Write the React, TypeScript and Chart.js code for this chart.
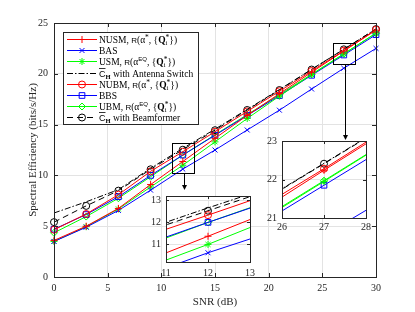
import React, { useEffect, useRef } from 'react';
import { Chart, registerables } from 'chart.js';
import { drawPoint } from 'chart.js/helpers';

Chart.register(...registerables);

const SERIF = "'Liberation Serif', 'Times New Roman', serif";
const SANS = "'Liberation Sans', Arial, sans-serif";

// ---------------- data ----------------
const snr = [0, 3, 6, 9, 12, 15, 18, 21, 24, 27, 30];
const nusm = [3.6, 5.0, 6.75, 9.1, 11.37, 13.65, 15.9, 18.05, 20.15, 22.24, 24.3];
const bas = [3.5, 4.9, 6.55, 8.55, 10.62, 12.5, 14.47, 16.42, 18.5, 20.55, 22.5];
const usm = [3.5, 4.95, 6.7, 8.86, 11.0, 13.3, 15.6, 17.8, 19.92, 21.95, 24.0];
const antSwitch = [6.3, 7.4, 8.6, 10.7, 12.66, 14.55, 16.5, 18.45, 20.44, 22.42, 24.42];
const nubm = [4.65, 6.2, 8.1, 10.4, 12.33, 14.3, 16.3, 18.28, 20.28, 22.28, 24.35];
const bbs = [4.7, 6.15, 7.9, 10.0, 12.0, 13.95, 15.9, 17.85, 19.85, 21.85, 23.85];
const ubm = [4.35, 5.95, 7.75, 9.87, 12.0, 14.0, 15.98, 17.95, 19.95, 21.97, 24.0];
const beamformer = [5.4, 7.0, 8.5, 10.6, 12.53, 14.45, 16.44, 18.4, 20.42, 22.41, 24.4];

const xTicks = [0, 5, 10, 15, 20, 25, 30];
const yTicks = [0, 5, 10, 15, 20, 25];
const zoom1X = [11, 13];
const zoom1Y = [10.2, 13.2];
const zoom1XTicks = [11, 12, 13];
const zoom1YTicks = [11, 12, 13];
const zoom2X = [26, 28];
const zoom2Y = [21, 23];
const zoom2XTicks = [26, 27, 28];
const zoom2YTicks = [21, 22, 23];

// ---------------- styles ----------------
type Run = { t: string; f?: string; dy?: number; noAdv?: boolean; over?: boolean };
const F = (s: number, w = '', fam = SERIF) => `${w ? w + ' ' : ''}${s}px ${fam}`;
const Rsym: Run = { t: 'R', f: F(8, '', SANS) };
const qPart: Run[] = [
  { t: ', {' },
  { t: 'Q', f: F(9.5, 'bold') },
  { t: 'i', f: F(6.5), dy: 2.5, noAdv: true },
  { t: '*', f: F(7.5), dy: -3 },
  { t: '})' },
];
const optLabel = (name: string): Run[] => [
  { t: name + ', ' }, Rsym, { t: '(α' }, { t: '*', f: F(7.5), dy: -3 }, ...qPart,
];
const eqLabel = (name: string): Run[] => [
  { t: name + ', ' }, Rsym, { t: '(α' }, { t: 'EQ', f: F(6, '', SANS), dy: -3.5 }, ...qPart,
];
const capLabel = (rest: string): Run[] => [
  { t: 'C', f: F(9, '', SANS), over: true },
  { t: 'H', f: F(6.5, 'bold'), dy: 2.5 },
  { t: rest },
];

const series = [
  { label: optLabel('NUSM'), data: nusm, color: '#ff0000', point: 'cross', dash: [] as number[], radius: 3.5 },
  { label: [{ t: 'BAS' }], data: bas, color: '#0000ff', point: 'crossRot', dash: [], radius: 3.5 },
  { label: eqLabel('USM'), data: usm, color: '#00ff00', point: 'star', dash: [], radius: 3.5 },
  { label: capLabel(' with Antenna Switch'), data: antSwitch, color: '#000000', point: false, dash: [6, 2, 1.5, 2], radius: 0 },
  { label: optLabel('NUBM'), data: nubm, color: '#ff0000', point: 'circle', dash: [], radius: 3.5 },
  { label: [{ t: 'BBS' }], data: bbs, color: '#0000ff', point: 'rect', dash: [], radius: 4 },
  { label: eqLabel('UBM'), data: ubm, color: '#00ff00', point: 'rectRot', dash: [], radius: 3.5 },
  { label: capLabel(' with Beamformer'), data: beamformer, color: '#000000', point: 'circle', dash: [6, 4], radius: 3.5 },
];

const makeDatasets = (clip: any) =>
  series.map((s) => ({
    data: snr.map((x, i) => ({ x, y: s.data[i] })),
    borderColor: s.color,
    backgroundColor: 'rgba(0,0,0,0)',
    borderWidth: 1,
    borderDash: s.dash,
    pointStyle: s.point as any,
    pointRadius: s.radius,
    pointBorderColor: s.color,
    pointBackgroundColor: 'rgba(0,0,0,0)',
    pointBorderWidth: 1,
    tension: 0,
    clip,
  }));

const AXIS = '#262626';
const GRID = '#e3e3e3';

function drawRich(ctx: CanvasRenderingContext2D, runs: Run[], x: number, y: number) {
  const base = F(9.5);
  ctx.textAlign = 'left';
  ctx.textBaseline = 'alphabetic';
  ctx.fillStyle = '#000';
  let cx = x;
  const baseY = y + 3;
  for (const r of runs) {
    ctx.font = r.f || base;
    ctx.fillText(r.t, cx, baseY + (r.dy || 0));
    const w = ctx.measureText(r.t).width;
    if (r.over) {
      ctx.strokeStyle = '#000';
      ctx.lineWidth = 0.8;
      ctx.beginPath();
      ctx.moveTo(cx, baseY - 8);
      ctx.lineTo(cx + w, baseY - 8);
      ctx.stroke();
    }
    if (!r.noAdv) cx += w;
  }
}

function drawBoxAndTicks(chart: any, xt: number[], yt: number[], len: number) {
  const { ctx, chartArea, scales } = chart;
  const { left, top, right, bottom } = chartArea;
  ctx.save();
  ctx.strokeStyle = AXIS;
  ctx.lineWidth = 1;
  ctx.setLineDash([]);
  ctx.beginPath();
  for (const v of xt) {
    const p = Math.round(scales.x.getPixelForValue(v)) + 0.5;
    ctx.moveTo(p, bottom);
    ctx.lineTo(p, bottom - len);
    ctx.moveTo(p, top);
    ctx.lineTo(p, top + len);
  }
  for (const v of yt) {
    const p = Math.round(scales.y.getPixelForValue(v)) + 0.5;
    ctx.moveTo(left, p);
    ctx.lineTo(left + len, p);
    ctx.moveTo(right, p);
    ctx.lineTo(right - len, p);
  }
  ctx.stroke();
  ctx.strokeRect(left + 0.5, top + 0.5, right - left, bottom - top);
  ctx.restore();
}

// inset layouts (page pixels)
const INSET1 = { left: 140, top: 185, w: 120, h: 100, area: { l: 26, t: 5, r: 10, xh: 23 }, xp: 5, yp: 5 };
const INSET2 = { left: 258, top: 130, w: 118, h: 112, area: { l: 24, t: 10, r: 10, xh: 24 }, xp: 3, yp: 5 };

function drawArrow(ctx: CanvasRenderingContext2D, x: number, y0: number, y1: number) {
  ctx.beginPath();
  ctx.moveTo(x, y0);
  ctx.lineTo(x, y1 - 4);
  ctx.stroke();
  ctx.beginPath();
  ctx.moveTo(x - 2.5, y1 - 5);
  ctx.lineTo(x + 2.5, y1 - 5);
  ctx.lineTo(x, y1);
  ctx.closePath();
  ctx.fill();
}

const mainPlugin = {
  id: 'mainDecor',
  afterDraw(chart: any) {
    const { ctx, scales } = chart;
    drawBoxAndTicks(chart, xTicks, yTicks, 4);
    ctx.save();
    ctx.strokeStyle = '#000';
    ctx.fillStyle = '#000';
    ctx.lineWidth = 1;
    const zr = (zx: number[], zy: number[]) => {
      const x0 = Math.round(scales.x.getPixelForValue(zx[0])) + 0.5;
      const x1 = Math.round(scales.x.getPixelForValue(zx[1])) + 0.5;
      const y0 = Math.round(scales.y.getPixelForValue(zy[1])) + 0.5;
      const y1 = Math.round(scales.y.getPixelForValue(zy[0])) + 0.5;
      ctx.strokeRect(x0, y0, x1 - x0, y1 - y0);
      return { cx: Math.round((x0 + x1) / 2) + 0.5, bottom: y1 };
    };
    const r1 = zr(zoom1X, zoom1Y);
    drawArrow(ctx, r1.cx, r1.bottom, INSET1.top + INSET1.area.t);
    const r2 = zr(zoom2X, zoom2Y);
    drawArrow(ctx, r2.cx, r2.bottom, INSET2.top + INSET2.area.t);

    // legend
    const lx = 63, ly = 32, lw = 135, lh = 92;
    ctx.fillStyle = '#fff';
    ctx.fillRect(lx, ly, lw, lh);
    ctx.strokeStyle = AXIS;
    ctx.strokeRect(lx + 0.5, ly + 0.5, lw, lh);
    series.forEach((s, i) => {
      const cy = Math.round(ly + 7 + i * 11.2) + 0.5;
      ctx.strokeStyle = s.color;
      ctx.lineWidth = 1;
      ctx.setLineDash(s.dash);
      ctx.beginPath();
      ctx.moveTo(67, cy);
      ctx.lineTo(97, cy);
      ctx.stroke();
      ctx.setLineDash([]);
      if (s.point) {
        ctx.fillStyle = 'rgba(0,0,0,0)';
        drawPoint(ctx, { pointStyle: s.point as any, radius: s.radius, borderWidth: 1, rotation: 0 } as any, 82, cy);
      }
      drawRich(ctx, s.label as Run[], 99, cy);
    });

    // axis titles
    ctx.fillStyle = AXIS;
    ctx.font = F(11);
    ctx.textAlign = 'center';
    ctx.textBaseline = 'middle';
    ctx.fillText('SNR (dB)', 215, 302);
    ctx.translate(33, 150);
    ctx.rotate(-Math.PI / 2);
    ctx.fillText('Spectral Efficiency (bits/s/Hz)', 0, 0);
    ctx.restore();
  },
};

function makeInsetPlugin(xt: number[], yt: number[]) {
  return {
    id: 'insetDecor',
    beforeDraw(chart: any) {
      const { ctx, chartArea: a } = chart;
      ctx.save();
      ctx.fillStyle = '#fff';
      ctx.fillRect(a.left, a.top, a.right - a.left, a.bottom - a.top);
      ctx.restore();
    },
    afterDraw(chart: any) {
      drawBoxAndTicks(chart, xt, yt, 3);
    },
  };
}

const tickFont = { family: SERIF, size: 10 };

function axisOpts(min: number, max: number, ticks: number[], pad: number, size: number, isX: boolean) {
  return {
    type: 'linear' as const,
    min,
    max,
    afterBuildTicks: (s: any) => {
      s.ticks = ticks.map((value) => ({ value }));
    },
    afterFit: (s: any) => {
      if (isX) s.height = size;
      else s.width = size;
    },
    ticks: { font: tickFont, color: AXIS, padding: pad, autoSkip: false, maxRotation: 0, callback: (v: any) => String(v) },
    grid: { color: GRID, lineWidth: 1, drawTicks: false },
    border: { display: false },
  };
}

export default function App() {
  const mainRef = useRef<HTMLCanvasElement>(null);
  const in1Ref = useRef<HTMLCanvasElement>(null);
  const in2Ref = useRef<HTMLCanvasElement>(null);

  useEffect(() => {
    document.body.style.margin = '0';
    const common = {
      responsive: false,
      animation: false as const,
      devicePixelRatio: 1,
      events: [] as any[],
      plugins: { legend: { display: false }, tooltip: { enabled: false } },
    };
    const main = new Chart(mainRef.current!, {
      type: 'line',
      data: { datasets: makeDatasets(false) as any },
      options: {
        ...common,
        layout: { padding: { top: 23, right: 39, left: 0, bottom: 0 } },
        scales: {
          x: axisOpts(0, 30, xTicks, 5, 35, true),
          y: axisOpts(0, 25, yTicks, 6, 54, false),
        },
      } as any,
      plugins: [mainPlugin],
    });
    const mkInset = (el: HTMLCanvasElement, L: typeof INSET1, zx: number[], zy: number[], xt: number[], yt: number[]) =>
      new Chart(el, {
        type: 'line',
        data: { datasets: makeDatasets(0) as any },
        options: {
          ...common,
          layout: { padding: { top: L.area.t, right: L.area.r, left: 0, bottom: 0 } },
          scales: {
            x: axisOpts(zx[0], zx[1], xt, L.xp, L.area.xh, true),
            y: axisOpts(zy[0], zy[1], yt, L.yp, L.area.l, false),
          },
        } as any,
        plugins: [makeInsetPlugin(xt, yt)],
      });
    const i1 = mkInset(in1Ref.current!, INSET1, zoom1X, zoom1Y, zoom1XTicks, zoom1YTicks);
    const i2 = mkInset(in2Ref.current!, INSET2, zoom2X, zoom2Y, zoom2XTicks, zoom2YTicks);
    return () => {
      main.destroy();
      i1.destroy();
      i2.destroy();
    };
  }, []);

  const abs = (l: number, t: number, w: number, h: number): React.CSSProperties => ({
    position: 'absolute', left: l, top: t, width: w, height: h,
  });

  return (
    <div style={{ position: 'relative', width: 415, height: 312, background: '#fff' }}>
      <canvas ref={mainRef} width={415} height={312} style={abs(0, 0, 415, 312)} />
      <canvas ref={in1Ref} width={INSET1.w} height={INSET1.h} style={abs(INSET1.left, INSET1.top, INSET1.w, INSET1.h)} />
      <canvas ref={in2Ref} width={INSET2.w} height={INSET2.h} style={abs(INSET2.left, INSET2.top, INSET2.w, INSET2.h)} />
    </div>
  );
}
